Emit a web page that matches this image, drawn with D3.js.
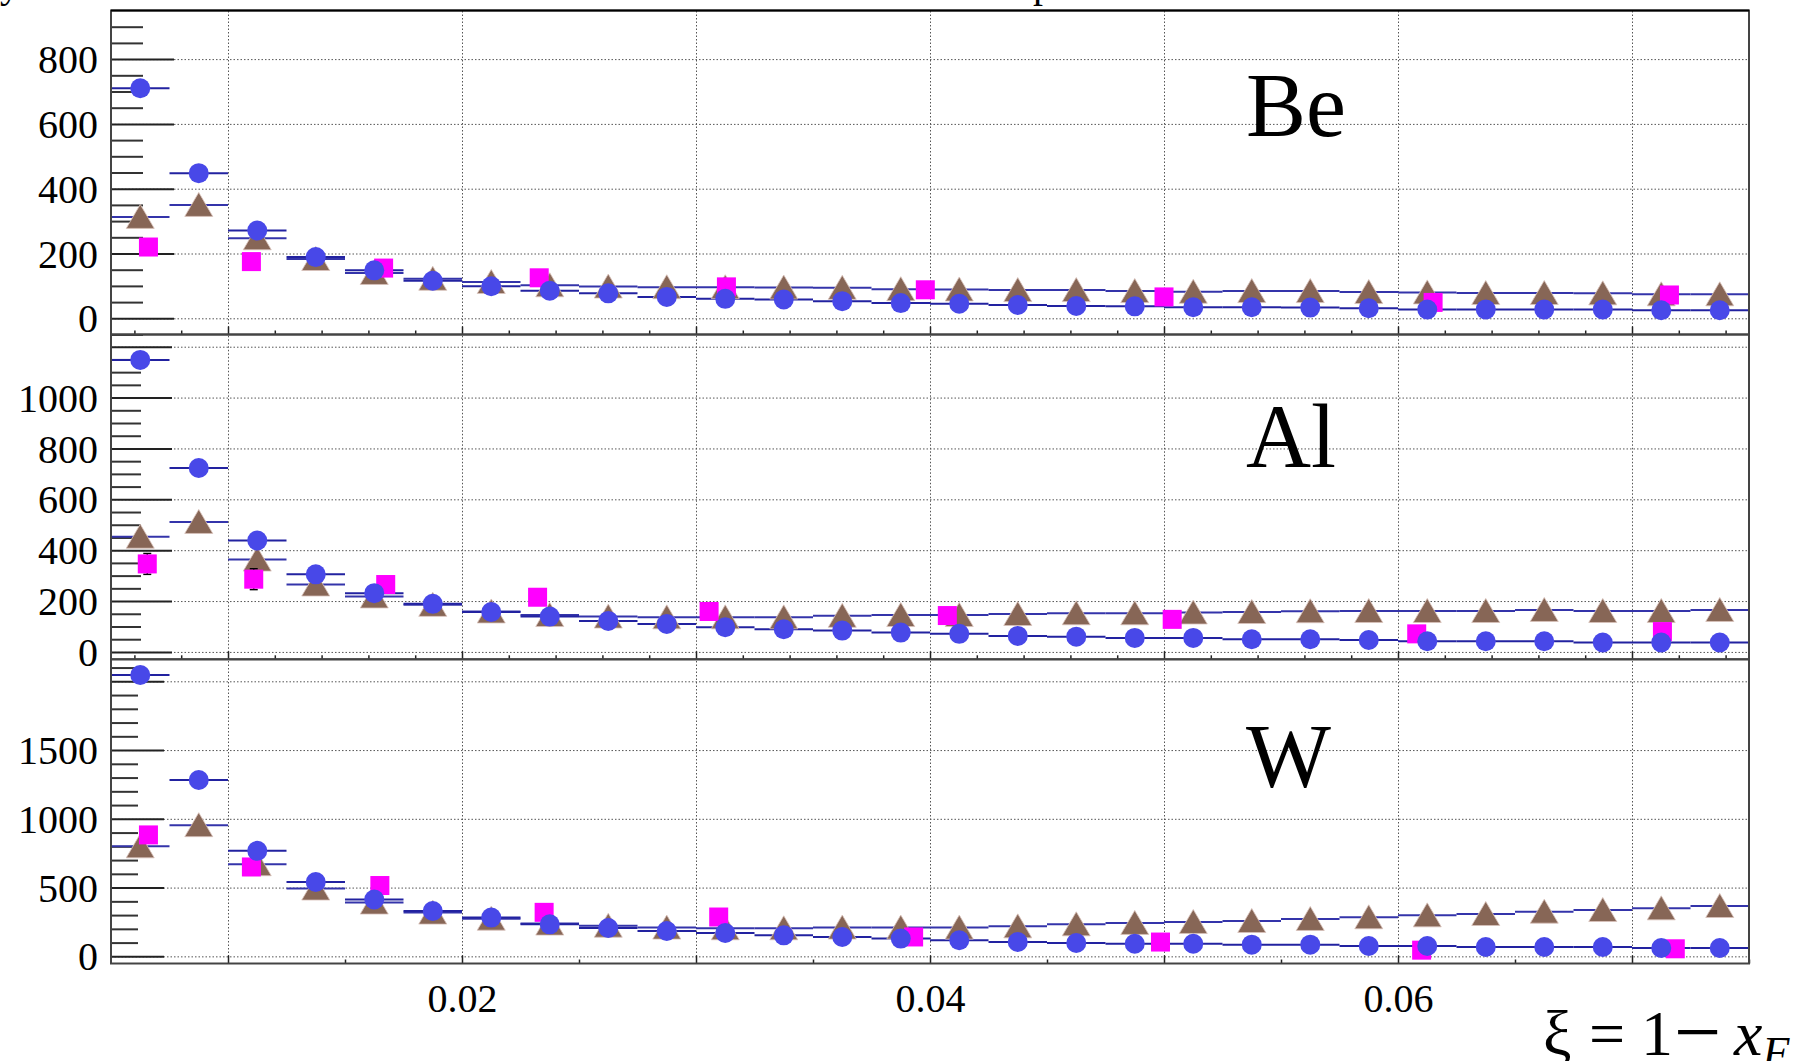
<!DOCTYPE html>
<html lang="en">
<head>
<meta charset="UTF-8">
<title>xi spectra Be Al W</title>
<script src="https://d3js.org/d3.v7.min.js"></script>
<style>
  body { margin: 0; background: #fff; }
  svg { display: block; font-family: "Liberation Serif", "Times New Roman", serif; }
</style>
</head>
<body>
<svg width="1794" height="1061"></svg>
<script>
// bin centres (bins are 0.0025 wide)
var xiBins = [0.00625, 0.00875, 0.01125, 0.01375, 0.01625, 0.01875, 0.02125, 0.02375,
              0.02625, 0.02875, 0.03125, 0.03375, 0.03625, 0.03875, 0.04125, 0.04375,
              0.04625, 0.04875, 0.05125, 0.05375, 0.05625, 0.05875, 0.06125, 0.06375,
              0.06625, 0.06875, 0.07125, 0.07375];

var beCircles   = [710, 448, 271, 189, 148, 116, 99, 85, 77, 66, 60, 58, 53, 47, 45, 41, 38, 37, 34, 34, 33, 31, 27, 27, 27, 27, 25, 25];
var beTriangles = [313, 350, 247, 183, 140, 122, 112, 102, 98, 96, 96, 95, 94, 90, 89, 87, 87, 84, 82, 84, 84, 81, 80, 78, 78, 77, 74, 74];
var beSquareXi  = [0.0066, 0.0110, 0.01665, 0.0233, 0.0313, 0.0398, 0.0500, 0.0615, 0.0716];
var beSquares   = [220, 175, 155, 125, 97, 88, 66, 49, 72];
var beSquareErr = [20, 18, 15, 12, 10, 10, 8, 8, 8];

var alCircles   = [1148, 723, 438, 305, 231, 189, 157, 139, 122, 110, 97, 89, 84, 76, 71, 63, 60, 55, 55, 50, 50, 47, 42, 42, 42, 37, 37, 37];
var alTriangles = [453, 511, 363, 265, 218, 185, 159, 145, 139, 136, 136, 136, 142, 145, 145, 149, 152, 152, 155, 157, 160, 161, 161, 161, 165, 161, 161, 165];
var alSquareXi  = [0.00655, 0.0111, 0.01674, 0.02323, 0.03056, 0.04074, 0.05035, 0.0608, 0.0713];
var alSquares   = [346, 286, 265, 215, 159, 143, 128, 71, 80];
var alSquareErr = [41, 41, 22, 18, 14, 12, 12, 10, 10];

var wCircles    = [2046, 1282, 767, 541, 413, 330, 282, 233, 206, 184, 170, 153, 141, 129, 117, 104, 97, 92, 92, 85, 85, 75, 75, 68, 68, 68, 61, 61];
var wTriangles  = [800, 954, 670, 493, 391, 318, 274, 238, 223, 209, 204, 204, 209, 209, 209, 218, 233, 243, 250, 257, 272, 284, 298, 308, 325, 337, 349, 366];
var wSquareXi   = [0.0066, 0.0110, 0.01649, 0.02351, 0.03097, 0.0393, 0.04985, 0.06101, 0.07185];
var wSquares    = [883, 650, 515, 320, 286, 141, 104, 45, 55];
var wSquareErr  = [40, 30, 25, 20, 18, 15, 12, 10, 10];

var beMajor = [0, 200, 400, 600, 800];
var alMajor = [0, 200, 400, 600, 800, 1000, 1200];
var wMajor  = [0, 500, 1000, 1500, 2000];
var beLabels = [0, 200, 400, 600, 800];
var alLabels = [0, 200, 400, 600, 800, 1000];
var wLabels  = [0, 500, 1000, 1500];
var xLabels  = [0.02, 0.04, 0.06];
var xGrid    = [0.01, 0.02, 0.03, 0.04, 0.05, 0.06, 0.07];

var svg = d3.select('svg');
var x = d3.scaleLinear().domain([0.005, 0.075]).range([111, 1749]);
var halfBin = 0.00125;

var panels = [
  {name: 'Be', c: beCircles, t: beTriangles, sx: beSquareXi, s: beSquares, se: beSquareErr,
   domain: [-50, 950], top: 10.5, bottom: 334.5, major: beMajor, labels: beLabels,
   minorStep: 50, majorLen: 63, minorLen: 32, xMinor: 0.002, nameY: 136},
  {name: 'Al', c: alCircles, t: alTriangles, sx: alSquareXi, s: alSquares, se: alSquareErr,
   domain: [-29, 1248], top: 334.5, bottom: 659.3, major: alMajor, labels: alLabels,
   minorStep: 50, majorLen: 61, minorLen: 30, xMinor: 0.002, nameY: 467},
  {name: 'W', c: wCircles, t: wTriangles, sx: wSquareXi, s: wSquares, se: wSquareErr,
   domain: [-52, 2160], top: 659.3, bottom: 963.5, major: wMajor, labels: wLabels,
   minorStep: 100, majorLen: 53, minorLen: 27, xMinor: 0.005, nameY: 787}
];

function styleTicks(g, color, width) {
  g.select('.domain').remove();
  g.selectAll('.tick line').attr('stroke', color).attr('stroke-width', width);
}

panels.forEach(function (p, pi) {
  var y = d3.scaleLinear().domain(p.domain).range([p.bottom, p.top]);
  var W = 1749 - 111, H = p.bottom - p.top;
  var g = svg.append('g');

  // grid
  var gx = g.append('g').attr('transform', 'translate(0,' + p.bottom + ')')
    .call(d3.axisBottom(x).tickValues(xGrid).tickSize(-H).tickFormat(''));
  styleTicks(gx, '#555', 1);
  gx.selectAll('.tick line').attr('stroke-dasharray', '1.5,2');
  var gy = g.append('g').attr('transform', 'translate(111,0)')
    .call(d3.axisRight(y).tickValues(p.major).tickSize(W).tickFormat(''));
  styleTicks(gy, '#555', 1);
  gy.selectAll('.tick line').attr('stroke-dasharray', '1.5,2');

  // y ticks
  var minors = d3.range(Math.ceil(p.domain[0] / p.minorStep) * p.minorStep, p.domain[1], p.minorStep)
    .filter(function (v) { return p.major.indexOf(v) < 0; });
  var ym = g.append('g').attr('transform', 'translate(111,0)')
    .call(d3.axisRight(y).tickValues(minors).tickSize(p.minorLen).tickFormat(''));
  styleTicks(ym, '#333', 2);
  var yM = g.append('g').attr('transform', 'translate(111,0)')
    .call(d3.axisRight(y).tickValues(p.major).tickSize(p.majorLen).tickFormat(''));
  styleTicks(yM, '#222', 2);
  var yl = g.append('g').attr('transform', 'translate(111,0)')
    .call(d3.axisLeft(y).tickValues(p.labels).tickSize(0).tickPadding(13).tickFormat(d3.format('d')));
  yl.select('.domain').remove();
  yl.selectAll('text').attr('font-family', '"Liberation Serif", serif').attr('font-size', 40)
    .attr('fill', '#000').attr('dy', '0.34em');

  // x ticks (pointing up, inside the frame)
  var xmin = d3.range(0.006, 0.0751, p.xMinor).filter(function (v) {
    return Math.abs(v * 100 - Math.round(v * 100)) > 1e-6;
  });
  if (p.xMinor === 0.005) xmin = d3.range(0.015, 0.0751, 0.01);
  var xt1 = g.append('g').attr('transform', 'translate(0,' + p.bottom + ')')
    .call(d3.axisTop(x).tickValues(xmin).tickSize(4).tickFormat(''));
  styleTicks(xt1, '#222', 1.5);
  var xt2 = g.append('g').attr('transform', 'translate(0,' + p.bottom + ')')
    .call(d3.axisTop(x).tickValues(xGrid).tickSize(8).tickFormat(''));
  styleTicks(xt2, '#222', 1.5);

  // data
  var pts = xiBins.map(function (xi, i) { return {xi: xi, c: p.c[i], t: p.t[i]}; });
  var sq = p.sx.map(function (xi, i) { return {xi: xi, v: p.s[i], e: p.se[i]}; });

  g.selectAll('line.terr').data(pts).enter().append('line')
    .attr('x1', function (d) { return x(d.xi - halfBin); })
    .attr('x2', function (d) { return x(d.xi + halfBin); })
    .attr('y1', function (d) { return y(d.t); })
    .attr('y2', function (d) { return y(d.t); })
    .attr('stroke', '#3434aa').attr('stroke-width', 2);
  g.selectAll('line.cerr').data(pts).enter().append('line')
    .attr('x1', function (d) { return x(d.xi - halfBin); })
    .attr('x2', function (d) { return x(d.xi + halfBin); })
    .attr('y1', function (d) { return y(d.c); })
    .attr('y2', function (d) { return y(d.c); })
    .attr('stroke', '#2222a0').attr('stroke-width', 2);

  g.selectAll('path.tri').data(pts).enter().append('path')
    .attr('d', function (d) {
      var cx = x(d.xi), cy = y(d.t);
      return 'M' + cx + ',' + (cy - 12.5) + 'L' + (cx + 14) + ',' + (cy + 11.5) +
             'L' + (cx - 14) + ',' + (cy + 11.5) + 'Z';
    })
    .attr('fill', '#876656').attr('stroke', '#d9c3bb').attr('stroke-width', 0.8);

  // squares with vertical error bars
  var sg = g.selectAll('g.sq').data(sq).enter().append('g');
  sg.append('line')
    .attr('x1', function (d) { return x(d.xi); }).attr('x2', function (d) { return x(d.xi); })
    .attr('y1', function (d) { return y(d.v - d.e); }).attr('y2', function (d) { return y(d.v + d.e); })
    .attr('stroke', '#000').attr('stroke-width', 1.5);
  [-1, 1].forEach(function (sgn) {
    sg.append('line')
      .attr('x1', function (d) { return x(d.xi) - 4; }).attr('x2', function (d) { return x(d.xi) + 4; })
      .attr('y1', function (d) { return y(d.v + sgn * d.e); }).attr('y2', function (d) { return y(d.v + sgn * d.e); })
      .attr('stroke', '#000').attr('stroke-width', 1.5);
  });
  sg.append('rect')
    .attr('x', function (d) { return x(d.xi) - 9.5; })
    .attr('y', function (d) { return y(d.v) - 9.5; })
    .attr('width', 19).attr('height', 19)
    .attr('fill', '#ff00ff');

  g.selectAll('circle.c').data(pts).enter().append('circle')
    .attr('cx', function (d) { return x(d.xi); })
    .attr('cy', function (d) { return y(d.c); })
    .attr('r', 10)
    .attr('fill', '#4848e8');

  // frame
  g.append('rect').attr('x', 111).attr('y', p.top).attr('width', W).attr('height', H)
    .attr('fill', 'none').attr('stroke', '#444').attr('stroke-width', 2);

  g.append('text').attr('x', 1246).attr('y', p.nameY).attr('font-size', 90)
    .attr('fill', '#000').text(p.name);
});

svg.append('line').attr('x1', 111).attr('x2', 1749).attr('y1', 10.5).attr('y2', 10.5)
  .attr('stroke', '#000').attr('stroke-width', 2);

// x labels
var xl = svg.append('g').attr('transform', 'translate(0,963.5)')
  .call(d3.axisBottom(x).tickValues(xLabels).tickSize(0).tickPadding(20).tickFormat(d3.format('.2f')));
xl.select('.domain').remove();
xl.selectAll('text').attr('font-family', '"Liberation Serif", serif').attr('font-size', 40).attr('fill', '#000');

// axis title (runs off the bottom-right corner, as in the original)
var title = svg.append('text').attr('y', 1055).attr('font-size', 64).attr('fill', '#000');
title.append('tspan').attr('x', 1543).text('ξ');
title.append('tspan').attr('x', 1589).text('=');
title.append('tspan').attr('x', 1641).text('1');
title.append('tspan').attr('x', 1674).attr('font-size', 84).attr('dy', 5).text('−');
title.append('tspan').attr('x', 1734).attr('dy', -5).attr('font-style', 'italic').text('x');
title.append('tspan').attr('font-style', 'italic').attr('font-size', 44).attr('dy', 12).text('F');

// clipped bits of text above the frame
svg.append('text').attr('x', 0).attr('y', -3).attr('font-size', 40).text('y');
svg.append('text').attr('x', 1033).attr('y', -3).attr('font-size', 40).text('p');
</script>
</body>
</html>
